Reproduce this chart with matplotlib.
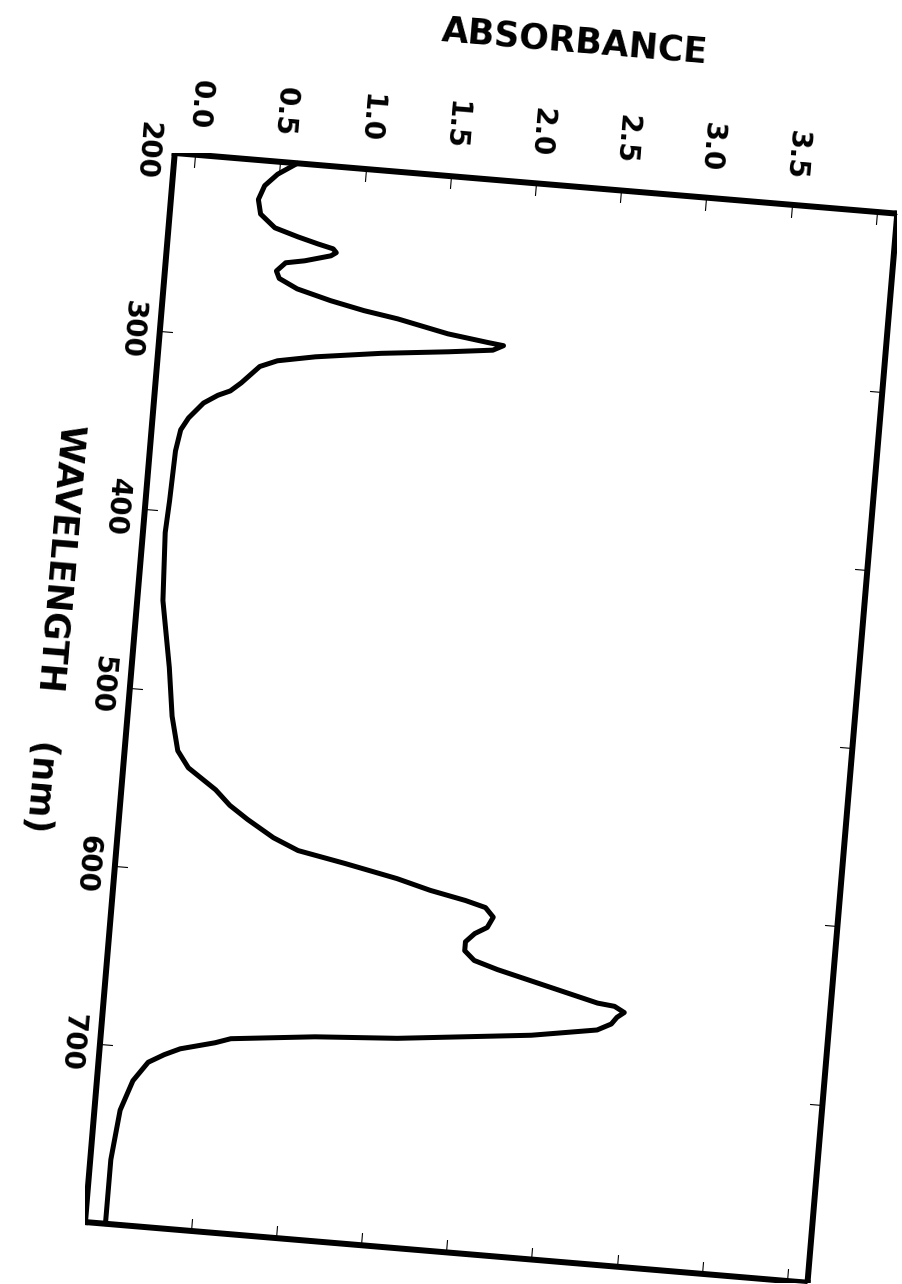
import matplotlib
matplotlib.use("Agg")
import matplotlib.pyplot as plt
from matplotlib.transforms import Affine2D
import mpl_toolkits.axisartist.floating_axes as floating_axes
from mpl_toolkits.axisartist.grid_finder import FixedLocator, DictFormatter

wavelength = [200, 207, 214, 222, 230, 237, 241, 244, 246, 248, 250, 254, 256, 261, 265,
              270, 275, 279, 282, 288, 291, 292, 295, 298, 302, 307, 311, 315, 321, 325,
              330, 333, 338, 347, 354, 366, 394, 412, 450, 487, 514, 533, 542, 553, 561,
              568, 577, 583, 588, 594, 599, 603, 606, 611, 617, 621, 626, 631, 636, 640,
              647, 654, 655, 658, 661, 665, 669, 675, 679, 683, 686, 691, 694, 699, 703,
              708, 719, 736, 764, 800]
absorbance = [0.60, 0.49, 0.42, 0.39, 0.41, 0.50, 0.64, 0.76, 0.85, 0.87, 0.84, 0.69, 0.58, 0.53, 0.55,
              0.66, 0.86, 1.06, 1.26, 1.56, 1.80, 1.89, 1.83, 1.57, 1.18, 0.80, 0.58, 0.48, 0.42, 0.38,
              0.32, 0.25, 0.17, 0.09, 0.05, 0.03, 0.02, 0.01, 0.03, 0.10, 0.14, 0.19, 0.26, 0.43, 0.52,
              0.63, 0.79, 0.94, 1.22, 1.53, 1.73, 1.94, 2.06, 2.11, 2.08, 2.01, 1.96, 1.96, 2.02, 2.16,
              2.46, 2.76, 2.86, 2.92, 2.88, 2.85, 2.77, 2.39, 2.00, 1.61, 1.13, 0.64, 0.55, 0.35, 0.26,
              0.17, 0.09, 0.03, 0.00, 0.00]

wl_ticks = [200, 300, 400, 500, 600, 700, 800]
wl_labels = ["200", "300", "400", "500", "600", "700", ""]
abs_ticks = [0.0, 0.5, 1.0, 1.5, 2.0, 2.5, 3.0, 3.5, 4.0]
abs_labels = ["0.0", "0.5", "1.0", "1.5", "2.0", "2.5", "3.0", "3.5", ""]

W, H = 902, 1284
fig = plt.figure(figsize=(W / 100, H / 100), dpi=100)

# page is scanned turned a quarter turn plus a small tilt
tilt = -94.8
wl_range = (200, 800)
abs_range = (-0.12, 4.12)
tr = Affine2D().scale(1.788, 171).rotate_deg(tilt)

grid_helper = floating_axes.GridHelperCurveLinear(
    tr, extremes=(wl_range[0], wl_range[1], abs_range[0], abs_range[1]),
    grid_locator1=FixedLocator(wl_ticks),
    grid_locator2=FixedLocator(abs_ticks),
    tick_formatter1=DictFormatter(dict(zip(wl_ticks, wl_labels))),
    tick_formatter2=DictFormatter(dict(zip(abs_ticks, abs_labels))))

ax = fig.add_axes([0, 0, 1, 1], axes_class=floating_axes.FloatingAxes,
                  grid_helper=grid_helper)

# fit the rotated frame onto the page
corners = tr.transform([(wl_range[0], abs_range[0]), (wl_range[1], abs_range[0]),
                        (wl_range[1], abs_range[1]), (wl_range[0], abs_range[1])])
x0, y0 = corners.min(axis=0)
x1, y1 = corners.max(axis=0)
ax.set_xlim(x0, x1)
ax.set_ylim(y0, y1)
left_px, top_px = 85, 153
ax.set_position([left_px / W, 1 - (top_px + (y1 - y0)) / H, (x1 - x0) / W, (y1 - y0) / H])

for side in ["left", "right", "bottom", "top"]:
    a = ax.axis[side]
    a.line.set_linewidth(4.3)
    a.line.set_capstyle("projecting")
    a.major_ticks.set_ticksize(9)
    a.major_ticks.set_linewidth(3.5)
    a.major_ticks.set_tick_out(False)
    a.minor_ticks.set_visible(False)

for side in ["left", "bottom"]:
    ax.axis[side].major_ticklabels.set_fontsize(20)
    ax.axis[side].major_ticklabels.set_fontweight("heavy")
ax.axis["left"].major_ticklabels.set_pad(19)
ax.axis["bottom"].major_ticklabels.set_pad(11)

aux = ax.get_aux_axes(tr)
aux.plot(wavelength, absorbance, color="black", linewidth=3.6,
         solid_capstyle="round", solid_joinstyle="round")

fig.text(575 / W, 1 - 42 / H, "ABSORBANCE", rotation=-4.8, fontsize=25,
         fontweight="heavy", ha="center", va="center", rotation_mode="anchor")
fig.text(54 / W, 1 - 628 / H, "WAVELENGTH    (nm)", rotation=-94.8, fontsize=25,
         fontweight="heavy", ha="center", va="center", rotation_mode="anchor")

fig.savefig("out.png", dpi=100)
